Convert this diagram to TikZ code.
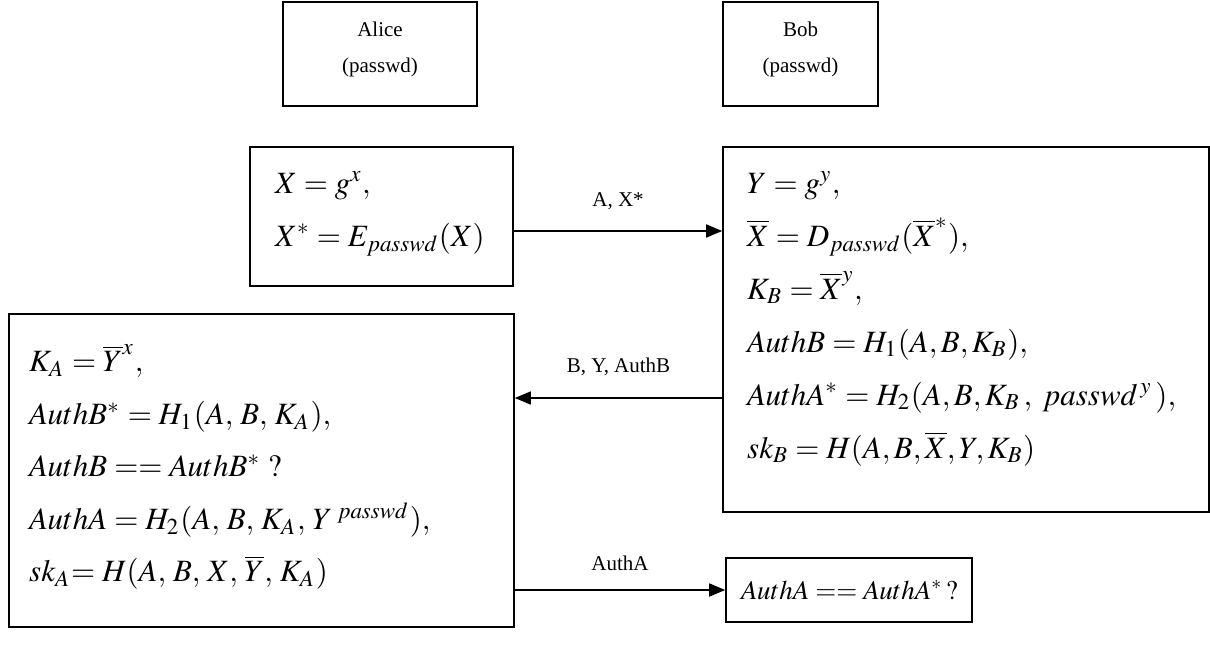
\documentclass[tikz,border=0pt]{standalone}
\usepackage{mathptmx}
\usepackage[no-math]{fontspec}
\setmainfont{Liberation Serif}
\usetikzlibrary{arrows.meta}
\newcommand\eqspacingB{\scriptspace=1.5pt\relax}
\newcommand\eqspacingA{\thinmuskip=4mu\relax\scriptspace=2pt\relax}
\begin{document}
\begin{tikzpicture}[x=1pt,y=-1pt,
  box/.style={draw, line width=1.6pt, inner sep=0pt},
  eq/.style={font=\fontsize{31}{53}\selectfont\eqspacingB, align=left, inner sep=0pt, anchor=west},
  eqa/.style={eq, font=\fontsize{31}{52.5}\selectfont\eqspacingA},
  lbl/.style={font=\fontsize{21}{24}\selectfont, inner sep=0pt},
  who/.style={font=\fontsize{21}{36}\selectfont, align=center},
  msg/.style={line width=1.6pt, -{Triangle[length=16pt,width=13pt]}}
]
\useasboundingbox (0,0) rectangle (1210,652);

% participants
\node[box, minimum width=194pt, minimum height=104pt] (alice) at (380,54) {};
\node[who] (alicet) at (380,49) {Alice\\(passwd)};
\node[box, minimum width=155pt, minimum height=104pt] (bob) at (800.5,54) {};
\node[who] (bobt) at (800.5,49) {Bob\\(passwd)};

% computation boxes
\node[box, minimum width=263pt, minimum height=139pt] (xcalc) at (381.5,216.5) {};
\node[eq] (xtext) at (275,214) {$X = g^{x},$\\ $X^{*} = E_{passwd}(X)$};

\node[box, minimum width=486pt, minimum height=365pt] (bcalc) at (966,329.5) {};
\node[eq] (btext) at (747,319) {%
$Y = g^{y},$\\
$\overline{X} = D_{passwd}(\overline{X}^{*}),$\\
$K_{B} = \overline{X}^{y},$\\
$AuthB = H_{1}(A,B,K_{B}),$\\
$AuthA^{*} = H_{2}(A,B,K_{B}\,,\; passwd^{\,y}\,),$\\
$sk_{B} = H(A,B,\overline{X},Y,K_{B})$};

\node[box, minimum width=505pt, minimum height=313pt] (acalc) at (261.5,470.5) {};
\node[eqa] (atext) at (29,467) {%
$K_{A} = \overline{Y}^{x},$\\
$AuthB^{*} = H_{1}(A,B,K_{A}),$\\
$AuthB == AuthB^{*}\,?$\\
$AuthA = H_{2}(A,B,K_{A},Y^{\,passwd}),$\\
$sk_{A}\!= H(A,B,X,\overline{Y},K_{A})$};

\node[box, minimum width=246pt, minimum height=64pt] (check) at (849,590) {};
\node[eq, font=\fontsize{27}{30}\selectfont\eqspacingB] (ctext) at (741,590) {$AuthA == AuthA^{*}\,?$};

% messages
\draw[msg] (xcalc.east |- 0,231) -- (bcalc.west |- 0,231) node[lbl, midway, above=20pt] (m1) {A, X*};
\draw[msg] (bcalc.west |- 0,398) -- (acalc.east |- 0,398) node[lbl, midway, above=21pt] (m2) {B, Y, AuthB};
\draw[msg] (acalc.east |- 0,590) -- (check.west) node[lbl, midway, above=18pt] (m3) {AuthA};
\end{tikzpicture}
\end{document}
